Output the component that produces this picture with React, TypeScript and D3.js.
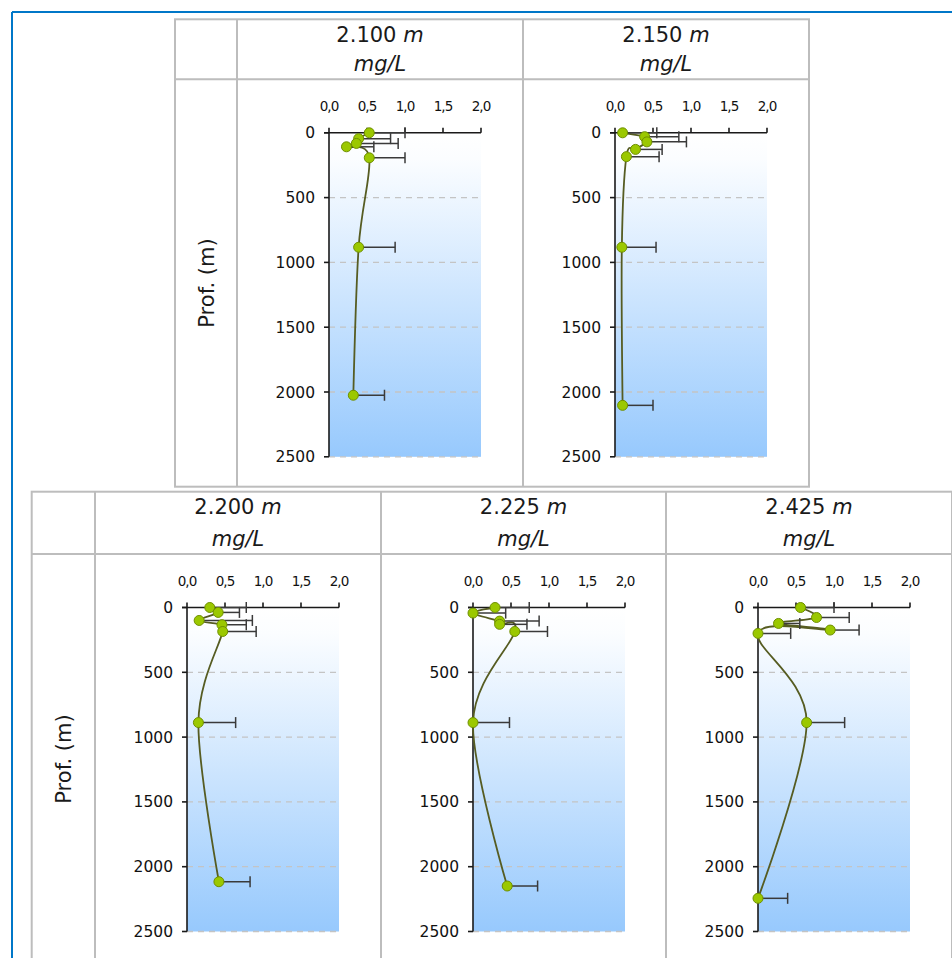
import React from "react";
import * as d3 from "d3";

// ---------- data ----------
const stations = ["2.100", "2.150", "2.200", "2.225", "2.425"];
const stationUnit = "m";
const valueUnit = "mg/L";
const depthAxisTitle = "Prof. (m)";

const depth_2100 = [0, 45, 82, 108, 193, 883, 2025];
const value_2100 = [0.53, 0.39, 0.36, 0.23, 0.53, 0.39, 0.32];
const upper_2100 = [1.0, 0.81, 0.91, 0.59, 1.0, 0.87, 0.73];

const depth_2150 = [0, 30, 70, 128, 184, 883, 2103];
const value_2150 = [0.1, 0.39, 0.42, 0.27, 0.15, 0.09, 0.1];
const upper_2150 = [0.55, 0.84, 0.94, 0.62, 0.58, 0.54, 0.5];

const depth_2200 = [0, 38, 100, 133, 185, 888, 2116];
const value_2200 = [0.3, 0.41, 0.16, 0.46, 0.47, 0.15, 0.42];
const upper_2200 = [0.78, 0.69, 0.86, 0.78, 0.91, 0.64, 0.83];

const depth_2225 = [0, 43, 105, 130, 185, 888, 2149];
const value_2225 = [0.29, 0.0, 0.35, 0.35, 0.55, 0.0, 0.45];
const upper_2225 = [0.74, 0.43, 0.87, 0.71, 0.98, 0.48, 0.85];

const depth_2425 = [0, 77, 123, 174, 200, 888, 2244];
const value_2425 = [0.56, 0.77, 0.27, 0.95, 0.0, 0.64, 0.0];
const upper_2425 = [1.0, 1.2, 0.55, 1.33, 0.43, 1.14, 0.39];

const depthTicks = [0, 500, 1000, 1500, 2000, 2500];
const valueTicks = [0, 0.5, 1, 1.5, 2];
const valueTickLabels = ["0,0", "0,5", "1,0", "1,5", "2,0"];

const seriesList = [
  { depth: depth_2100, value: value_2100, upper: upper_2100 },
  { depth: depth_2150, value: value_2150, upper: upper_2150 },
  { depth: depth_2200, value: value_2200, upper: upper_2200 },
  { depth: depth_2225, value: value_2225, upper: upper_2225 },
  { depth: depth_2425, value: value_2425, upper: upper_2425 },
];

// ---------- layout ----------
const W = 952;
const H = 958;
const FONT = "'DejaVu Sans', Verdana, sans-serif";
const GRID = "#bdbdbd";

const topTable = { xs: [175, 237, 523, 809], top: 19.3, head: 79.3, bottom: 486.7 };
const botTable = { xs: [31.7, 95, 381, 666, 952], top: 491.7, head: 554, bottom: 964 };

const panelCells = [
  { left: topTable.xs[1], right: topTable.xs[2], top: topTable.top, head: topTable.head },
  { left: topTable.xs[2], right: topTable.xs[3], top: topTable.top, head: topTable.head },
  { left: botTable.xs[1], right: botTable.xs[2], top: botTable.top, head: botTable.head },
  { left: botTable.xs[2], right: botTable.xs[3], top: botTable.top, head: botTable.head },
  { left: botTable.xs[3], right: botTable.xs[4], top: botTable.top, head: botTable.head },
];

function Table({ t }: { t: typeof topTable }) {
  const x0 = t.xs[0];
  const x1 = t.xs[t.xs.length - 1];
  return (
    <g stroke={GRID} strokeWidth={2} fill="none">
      <rect x={x0} y={t.top} width={x1 - x0} height={t.bottom - t.top} />
      <line x1={x0} x2={x1} y1={t.head} y2={t.head} />
      {t.xs.slice(1, -1).map((x, i) => (
        <line key={i} x1={x} x2={x} y1={t.top} y2={t.bottom} />
      ))}
    </g>
  );
}

function Panel({ idx }: { idx: number }) {
  const cell = panelCells[idx];
  const s = seriesList[idx];
  const x0 = cell.left + 92;
  const y0 = cell.head + 53.5;
  const x = d3.scaleLinear().domain([0, 2]).range([x0, x0 + 152]);
  const y = d3.scaleLinear().domain([0, 2500]).range([y0, y0 + 324]);
  const pts = s.depth.map((d, i) => ({ d, v: s.value[i], u: s.upper[i] }));
  const line = d3
    .line<{ d: number; v: number }>()
    .x((p) => x(p.v))
    .y((p) => y(p.d))
    .curve(d3.curveCatmullRom.alpha(0));
  const gid = `grad${idx}`;
  const cx = (cell.left + cell.right) / 2;
  return (
    <g>
      <defs>
        <linearGradient id={gid} x1="0" y1="0" x2="0" y2="1">
          <stop offset="0" stopColor="#ffffff" />
          <stop offset="0.08" stopColor="#fbfdff" />
          <stop offset="1" stopColor="#97c9fd" />
        </linearGradient>
      </defs>
      {/* header */}
      <text x={cx} y={cell.top + 22.5} textAnchor="middle" fontFamily={FONT} fontSize={21} fill="#1a1a1a">
        <tspan>{stations[idx]}</tspan>
        <tspan fontStyle="italic">{" " + stationUnit}</tspan>
      </text>
      <text x={cx} y={cell.head - 8} textAnchor="middle" fontFamily={FONT} fontSize={21} fontStyle="italic" fill="#1a1a1a">
        {valueUnit}
      </text>
      {/* plot background */}
      <rect x={x(0)} y={y(0)} width={x(2) - x(0)} height={y(2500) - y(0)} fill={`url(#${gid})`} />
      {/* grid */}
      {depthTicks.slice(1).map((t) => (
        <line key={t} x1={x(0)} x2={x(2)} y1={y(t)} y2={y(t)} stroke="#c4c4c4" strokeWidth={1.3} strokeDasharray="6,5" />
      ))}
      {/* axes */}
      <line x1={x(0)} x2={x(0)} y1={y(0)} y2={y(2500)} stroke="#1a1a1a" strokeWidth={1.6} />
      <line x1={x(0) - 5} x2={x(2)} y1={y(0)} y2={y(0)} stroke="#1a1a1a" strokeWidth={1.6} />
      {depthTicks.map((t) => (
        <g key={t}>
          <line x1={x(0) - 5} x2={x(0)} y1={y(t)} y2={y(t)} stroke="#1a1a1a" strokeWidth={1.6} />
          <text x={x(0) - 14} y={y(t)} dy="0.36em" textAnchor="end" fontFamily={FONT} fontSize={15.5} fill="#111">
            {t}
          </text>
        </g>
      ))}
      {valueTicks.map((t, i) => (
        <g key={t}>
          <line x1={x(t)} x2={x(t)} y1={y(0) - 5} y2={y(0)} stroke="#1a1a1a" strokeWidth={1.6} />
          <text x={x(t)} y={y(0) - 22} textAnchor="middle" fontFamily={FONT} fontSize={13.5} letterSpacing={-1} fill="#111">
            {valueTickLabels[i]}
          </text>
        </g>
      ))}
      {/* line */}
      <path d={line(pts) || ""} fill="none" stroke="#565c22" strokeWidth={1.8} />
      {/* error bars */}
      {pts.map((p, i) => (
        <g key={i} stroke="#3a3a3a" strokeWidth={1.5}>
          <line x1={x(p.v)} x2={x(p.u)} y1={y(p.d)} y2={y(p.d)} />
          <line x1={x(p.u)} x2={x(p.u)} y1={y(p.d) - 5.5} y2={y(p.d) + 5.5} />
        </g>
      ))}
      {/* markers */}
      {pts.map((p, i) => (
        <circle key={i} cx={x(p.v)} cy={y(p.d)} r={5} fill="#9bc800" stroke="#6f8f00" strokeWidth={1} />
      ))}
    </g>
  );
}

function DepthLabel({ t }: { t: typeof topTable }) {
  const cx = (t.xs[0] + t.xs[1]) / 2;
  const cy = (t.head + t.bottom) / 2;
  return (
    <text
      transform={`translate(${cx},${cy}) rotate(-90)`}
      textAnchor="middle"
      dy="0.36em"
      fontFamily={FONT}
      fontSize={21}
      fill="#1a1a1a"
    >
      {depthAxisTitle}
    </text>
  );
}

export default function App() {
  return (
    <svg
      width={W}
      height={H}
      style={{ position: "absolute", left: 0, top: 0, background: "#fff" }}
    >
      <rect x={0} y={0} width={W} height={H} fill="#fff" />
      <line x1={12} x2={W + 5} y1={12} y2={12} stroke="#0077c8" strokeWidth={2} />
      <line x1={12} x2={12} y1={12} y2={H + 5} stroke="#0077c8" strokeWidth={2} />
      <Table t={topTable} />
      <Table t={botTable} />
      <DepthLabel t={topTable} />
      <DepthLabel t={botTable} />
      {seriesList.map((_, i) => (
        <Panel key={i} idx={i} />
      ))}
    </svg>
  );
}
